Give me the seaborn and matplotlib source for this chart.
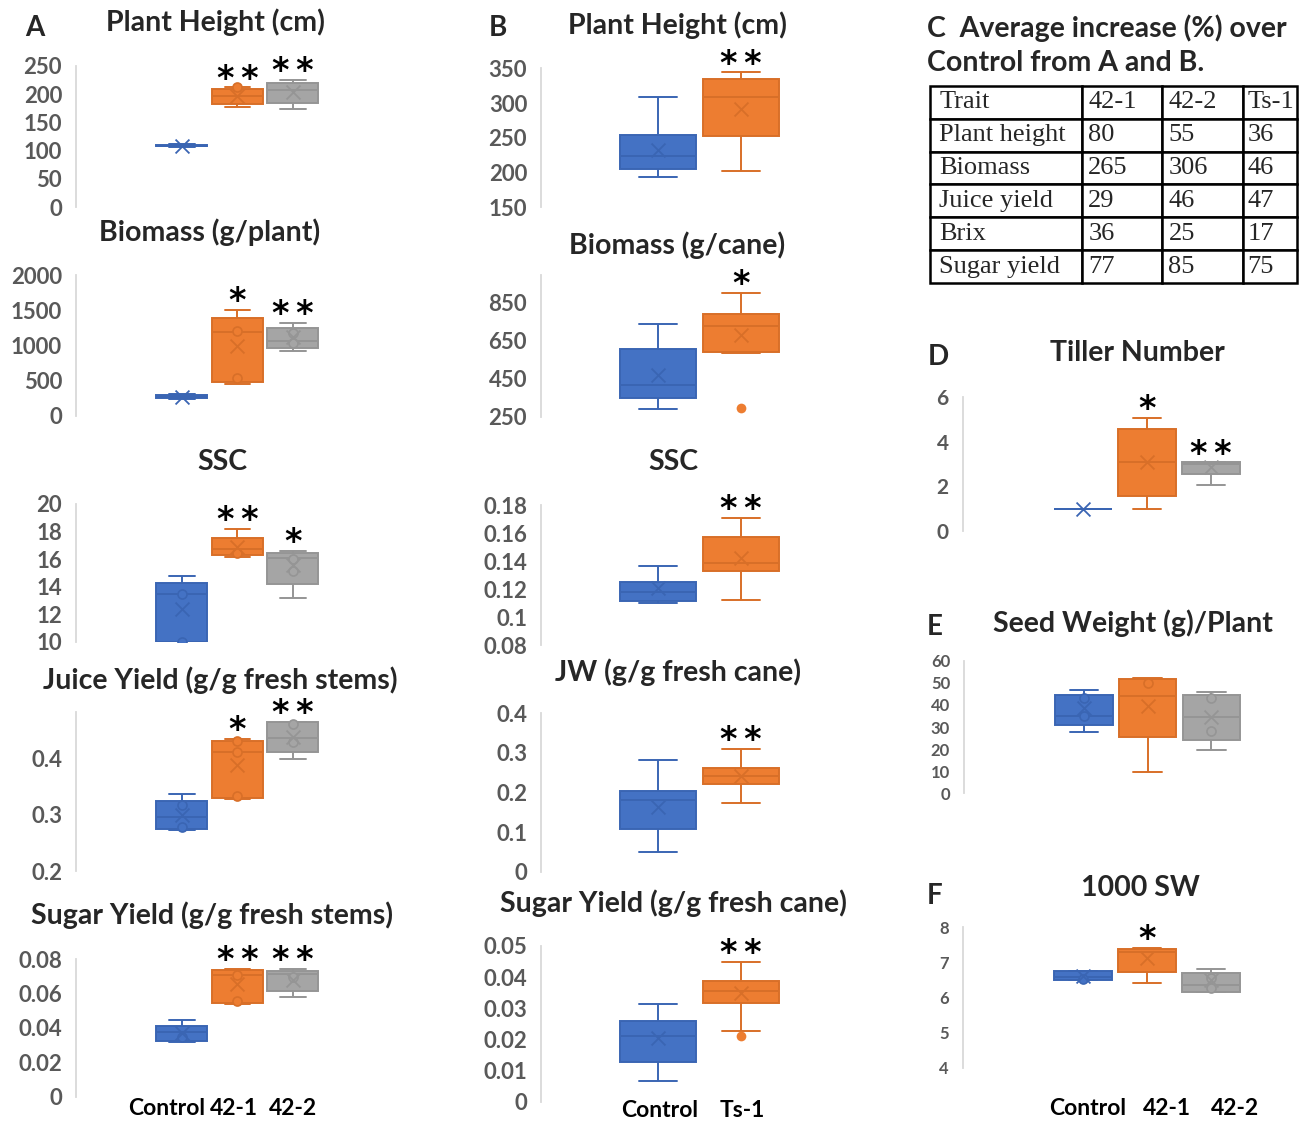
import numpy as np
import pandas as pd
import matplotlib
matplotlib.use("Agg")
import matplotlib.pyplot as plt
import seaborn as sns
from matplotlib.transforms import ScaledTranslation

# ------------------------------------------------------------------ data
GROUPS_A = ["Control", "42-1", "42-2"]
GROUPS_B = ["Control", "Ts-1"]

# box summaries per group: [min, q1, median, q3, max]
A_HEIGHT = [[106, 108, 109, 110, 111], [178, 182, 196, 209, 212], [174, 185, 207, 220, 225]]
A_HEIGHT_MEAN = [108, 196, 204]
A_HEIGHT_PTS = [[], [212], []]
A_HEIGHT_SIG = ["", "**", "**"]

A_BIOMASS = [[240, 255, 270, 300, 310], [450, 478, 1196, 1386, 1504], [926, 960, 1064, 1253, 1315]]
A_BIOMASS_MEAN = [272, 993, 1125]
A_BIOMASS_PTS = [[], [1200, 535], [1180, 1030]]
A_BIOMASS_SIG = ["", "*", "**"]

A_SSC = [[10.0, 10.0, 13.44, 14.24, 14.8], [16.17, 16.3, 16.7, 17.55, 18.2], [13.2, 14.19, 16.05, 16.46, 16.6]]
A_SSC_MEAN = [12.35, 16.9, 15.57]
A_SSC_PTS = [[13.5, 10.0], [16.45], [16.0, 15.15]]
A_SSC_SIG = ["", "**", "*"]

A_JUICE = [[0.272, 0.274, 0.296, 0.325, 0.336], [0.328, 0.329, 0.411, 0.431, 0.434], [0.399, 0.412, 0.437, 0.465, 0.465]]
A_JUICE_MEAN = [0.2995, 0.388, 0.438]
A_JUICE_PTS = [[0.317, 0.278], [0.431, 0.411, 0.333], [0.462, 0.43]]
A_JUICE_SIG = ["", "*", "**"]

A_SUGAR = [[0.0317, 0.0324, 0.0375, 0.0412, 0.0447], [0.054, 0.0544, 0.071, 0.0739, 0.0745], [0.058, 0.0616, 0.0714, 0.0729, 0.0745]]
A_SUGAR_MEAN = [0.037, 0.0657, 0.068]
A_SUGAR_PTS = [[0.035], [0.071, 0.0557], [0.0695]]
A_SUGAR_SIG = ["", "**", "**"]

B_HEIGHT = [[194, 204.7, 224, 254, 309], [202.7, 253, 309, 334.6, 344]]
B_HEIGHT_MEAN = [232, 292]
B_HEIGHT_SIG = ["", "**"]

B_BIOMASS = [[289, 347, 417, 606, 738], [587, 592, 729, 790.5, 903]]
B_BIOMASS_MEAN = [469, 680]
B_BIOMASS_OUT = [[], [297]]
B_BIOMASS_SIG = ["", "*"]

B_SSC = [[0.110, 0.1116, 0.118, 0.1252, 0.1364], [0.112, 0.1329, 0.1388, 0.1574, 0.171]]
B_SSC_MEAN = [0.1205, 0.142]
B_SSC_SIG = ["", "**"]

B_JW = [[0.0505, 0.107, 0.181, 0.2045, 0.282], [0.173, 0.2207, 0.2417, 0.261, 0.31]]
B_JW_MEAN = [0.164, 0.2417]
B_JW_SIG = ["", "**"]

B_SUGAR = [[0.0066, 0.0128, 0.0212, 0.0259, 0.0314], [0.0227, 0.0318, 0.0357, 0.0389, 0.045]]
B_SUGAR_MEAN = [0.0204, 0.0348]
B_SUGAR_OUT = [[], [0.0211]]
B_SUGAR_SIG = ["", "**"]

D_TILLER = [[1, 1, 1, 1, 1], [1, 1.57, 3.07, 4.56, 5.06], [2.06, 2.53, 3.0, 3.07, 3.07]]
D_TILLER_MEAN = [1, 3.07, 2.87]
D_TILLER_SIG = ["", "*", "**"]

E_SEED = [[27.7, 30.7, 35, 44.3, 46.6], [9.5, 25.4, 44, 51.5, 52.2], [19.8, 24.1, 34.5, 44.3, 45.9]]
E_SEED_MEAN = [38.6, 39.7, 34.5]
E_SEED_PTS = [[43, 35], [50], [43, 28.4]]
E_SEED_SIG = ["", "", ""]

F_SW = [[6.49, 6.49, 6.59, 6.74, 6.74], [6.4, 6.73, 7.29, 7.37, 7.4], [6.14, 6.15, 6.36, 6.68, 6.81]]
F_SW_MEAN = [6.6, 7.11, 6.5]
F_SW_PTS = [[6.52], [], [6.26, 6.55]]
F_SW_SIG = ["", "*", ""]

TABLE_HEADER = ["Trait", "42-1", "42-2", "Ts-1"]
TABLE_TRAITS = ["Plant height", "Biomass", "Juice yield", "Brix", "Sugar yield"]
INCREASE_42_1 = [80, 265, 29, 36, 77]
INCREASE_42_2 = [55, 306, 46, 25, 85]
INCREASE_TS_1 = [36, 46, 47, 17, 75]

# ------------------------------------------------------------------ style
FILL = {"Control": "#4472C4", "42-1": "#ED7D31", "42-2": "#A5A5A5", "Ts-1": "#ED7D31"}
EDGE = {"Control": "#3A65B3", "42-1": "#D86F28", "42-2": "#959595", "Ts-1": "#D86F28"}
TICK_GREY = "#595959"
SANS = ["Lato", "DejaVu Sans"]

sns.set_style("white")
plt.rcParams["font.family"] = SANS

W, H = 1300, 1121
fig = plt.figure(figsize=(W / 100, H / 100), dpi=100)


def rect(left, top, right, bottom):
    return [left / W, 1 - bottom / H, (right - left) / W, (bottom - top) / H]


def ftext(x, y, s, **kw):
    kw.setdefault("ha", "center")
    kw.setdefault("va", "center")
    kw.setdefault("fontweight", "bold")
    fig.text(x / W, 1 - y / H, s, **kw)


def fmt(v):
    return f"{v:g}"


def star_text(s):
    # spread the asterisks apart a little
    return "\u2009".join(s)


def box_panel(box, xlim, groups, stats, means, sig, ylim, yticks,
              pts=None, outliers=None, tick_size=16, box_width=0.92):
    ax = fig.add_axes(rect(*box))
    for i, g in enumerate(groups):
        df = pd.DataFrame({"group": [g] * len(stats[i]), "value": stats[i]})
        sns.boxplot(data=df, x="group", y="value", order=groups, ax=ax,
                    color=FILL[g], linecolor=EDGE[g], linewidth=1.4,
                    width=box_width, whis=(0, 100), saturation=1,
                    showfliers=False)
        if pts is not None and pts[i]:
            sns.stripplot(x=[g] * len(pts[i]), y=pts[i], order=groups, ax=ax,
                          jitter=False, color=FILL[g], edgecolor=EDGE[g],
                          linewidth=1.2, size=6.5, zorder=4)
        if outliers is not None and outliers[i]:
            sns.stripplot(x=[g] * len(outliers[i]), y=outliers[i], order=groups,
                          ax=ax, jitter=False, color=FILL[g], linewidth=0,
                          size=7, zorder=4)
    sns.stripplot(x=groups, y=means, order=groups, hue=groups, palette=EDGE,
                  ax=ax, jitter=False, marker="x", size=10, linewidth=1.3,
                  legend=False, zorder=5)
    for i, s in enumerate(sig):
        if s:
            ax.annotate(star_text(s), xy=(i, max(stats[i])), xytext=(0, 6),
                        textcoords="offset points", ha="center", va="center",
                        fontsize=24, fontweight="bold", color="black",
                        family="DejaVu Sans", annotation_clip=False)
    ax.set_xlim(*xlim)
    ax.set_ylim(*ylim)
    ax.set_yticks(yticks)
    ax.set_yticklabels([fmt(v) for v in yticks], fontsize=tick_size,
                       fontweight="bold", color=TICK_GREY)
    ax.set_xlabel("")
    ax.set_ylabel("")
    ax.set_xticks([])
    for side in ("top", "right", "bottom"):
        ax.spines[side].set_visible(False)
    ax.spines["left"].set_color("#D9D9D9")
    ax.spines["left"].set_linewidth(1.3)
    ax.tick_params(axis="y", length=0, pad=10)
    ax.patch.set_alpha(0)
    return ax


def bottom_labels(ax, groups, shifts, pad):
    ax.set_xticks(range(len(groups)))
    ax.set_xticklabels(groups, fontsize=16.5, fontweight="bold", color="black")
    ax.tick_params(axis="x", length=0, pad=pad)
    for lab, dx in zip(ax.get_xticklabels(), shifts):
        lab.set_transform(lab.get_transform() +
                          ScaledTranslation(dx / 100, 0, fig.dpi_scale_trans))


# ------------------------------------------------------------------ column A
XA = (-1.91, 4.04)
box_panel((76, 66, 406, 207), XA, GROUPS_A, A_HEIGHT, A_HEIGHT_MEAN, A_HEIGHT_SIG,
          (0, 250), [0, 50, 100, 150, 200, 250], pts=A_HEIGHT_PTS)
box_panel((76, 275, 406, 416), XA, GROUPS_A, A_BIOMASS, A_BIOMASS_MEAN, A_BIOMASS_SIG,
          (0, 2000), [0, 500, 1000, 1500, 2000], pts=A_BIOMASS_PTS)
box_panel((76, 504, 406, 641.7), XA, GROUPS_A, A_SSC, A_SSC_MEAN, A_SSC_SIG,
          (10, 20), [10, 12, 14, 16, 18, 20], pts=A_SSC_PTS)
box_panel((76, 711.7, 406, 871), XA, GROUPS_A, A_JUICE, A_JUICE_MEAN, A_JUICE_SIG,
          (0.2, 0.483), [0.2, 0.3, 0.4], pts=A_JUICE_PTS)
ax_a5 = box_panel((76, 959.3, 406, 1096.7), XA, GROUPS_A, A_SUGAR, A_SUGAR_MEAN,
                  A_SUGAR_SIG, (0, 0.08), [0, 0.02, 0.04, 0.06, 0.08], pts=A_SUGAR_PTS)
bottom_labels(ax_a5, GROUPS_A, [-15, -3, 0], 1)

# ------------------------------------------------------------------ column B
XB = (-1.41, 2.57)
box_panel((541, 68.3, 871, 207.3), XB, GROUPS_B, B_HEIGHT, B_HEIGHT_MEAN, B_HEIGHT_SIG,
          (150, 350), [150, 200, 250, 300, 350])
box_panel((541, 275.1, 871, 416.7), XB, GROUPS_B, B_BIOMASS, B_BIOMASS_MEAN, B_BIOMASS_SIG,
          (250, 995), [250, 450, 650, 850], outliers=B_BIOMASS_OUT)
box_panel((541, 505, 871, 645), XB, GROUPS_B, B_SSC, B_SSC_MEAN, B_SSC_SIG,
          (0.08, 0.18), [0.08, 0.1, 0.12, 0.14, 0.16, 0.18])
box_panel((541, 713.3, 871, 871.7), XB, GROUPS_B, B_JW, B_JW_MEAN, B_JW_SIG,
          (0, 0.4), [0, 0.1, 0.2, 0.3, 0.4])
ax_b5 = box_panel((541, 946, 871, 1101.7), XB, GROUPS_B, B_SUGAR, B_SUGAR_MEAN,
                  B_SUGAR_SIG, (0, 0.05), [0, 0.01, 0.02, 0.03, 0.04, 0.05],
                  outliers=B_SUGAR_OUT)
bottom_labels(ax_b5, GROUPS_B, [2, 1], -1)

# ------------------------------------------------------------------ panels D-F
XD = (-1.88, 3.39)
box_panel((962.7, 396.8, 1300, 531), XD, GROUPS_A, D_TILLER, D_TILLER_MEAN, D_TILLER_SIG,
          (0, 6), [0, 2, 4, 6], tick_size=15, box_width=0.9)
box_panel((964, 660.7, 1300, 793.3), XD, GROUPS_A, E_SEED, E_SEED_MEAN, E_SEED_SIG,
          (0, 60), [0, 10, 20, 30, 40, 50, 60], pts=E_SEED_PTS, tick_size=12,
          box_width=0.9)
ax_f = box_panel((962.7, 927, 1300, 1067.7), XD, GROUPS_A, F_SW, F_SW_MEAN, F_SW_SIG,
                 (4, 8), [4, 5, 6, 7, 8], pts=F_SW_PTS, tick_size=12, box_width=0.9)
bottom_labels(ax_f, GROUPS_A, [5, 20, 24], 22)

# ------------------------------------------------------------------ titles
TITLE = 20.5
for x, y, s in [(215, 22, "Plant Height (cm)"), (210, 232, "Biomass (g/plant)"),
                (222, 462, "SSC"), (220, 680, "Juice Yield (g/g fresh stems)"),
                (212, 915, "Sugar Yield (g/g fresh stems)"),
                (677, 25, "Plant Height (cm)"), (677, 245, "Biomass (g/cane)"),
                (673, 462, "SSC"), (678, 672, "JW (g/g fresh cane)"),
                (673, 903, "Sugar Yield (g/g fresh cane)"),
                (1137, 353, "Tiller Number"), (1133, 623, "Seed Weight (g)/Plant"),
                (1140, 888, "1000 SW")]:
    ftext(x, y, s, fontsize=TITLE)

for x, y, s in [(35, 28, "A"), (498, 28, "B"), (938, 357, "D"),
                (935, 627, "E"), (935, 896, "F")]:
    ftext(x, y, s, fontsize=20)

ftext(927, 28, "C  Average increase (%) over", ha="left", fontsize=20.5)
ftext(927, 63, "Control from A and B.", ha="left", fontsize=20.5)

# ------------------------------------------------------------------ table C
ax_t = fig.add_axes(rect(930, 86, 1297, 283))
ax_t.axis("off")
rows = [TABLE_HEADER] + [[t, str(a), str(b), str(c)] for t, a, b, c in
                         zip(TABLE_TRAITS, INCREASE_42_1, INCREASE_42_2, INCREASE_TS_1)]
tbl = ax_t.table(cellText=rows, colWidths=[0.414, 0.218, 0.221, 0.147],
                 cellLoc="left", bbox=[0, 0, 1, 1])
tbl.auto_set_font_size(False)
for (r, c), cell in tbl.get_celld().items():
    cell.set_linewidth(1.8)
    cell.set_edgecolor("black")
    cell.PAD = 0.06 if c == 0 else 0.08
    txt = cell.get_text()
    txt.set_fontfamily("Liberation Serif")
    txt.set_fontsize(19)

fig.savefig("out.png", dpi=100)
